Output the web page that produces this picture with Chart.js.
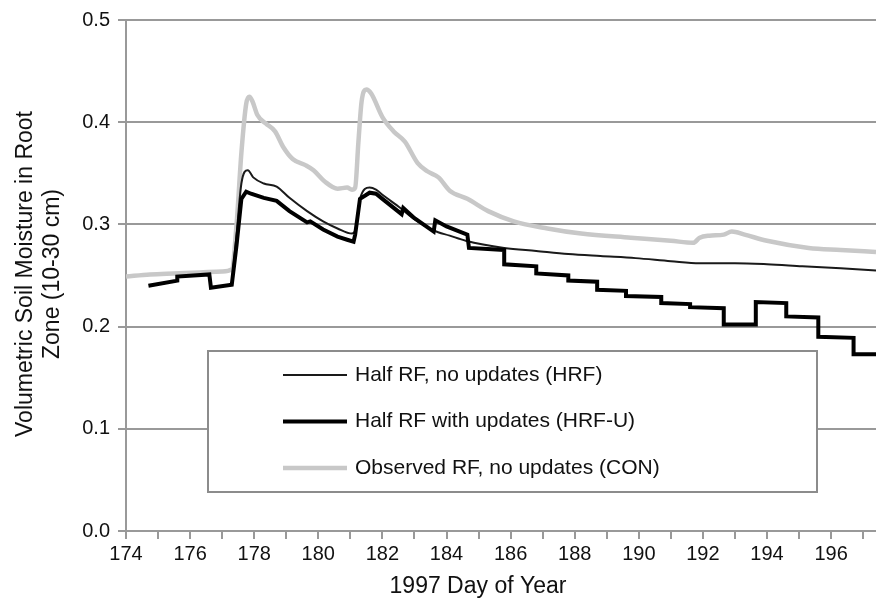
<!DOCTYPE html>
<html><head><meta charset="utf-8">
<script src="https://cdn.jsdelivr.net/npm/chart.js@4/dist/chart.umd.min.js"></script>
<style>html,body{margin:0;padding:0;background:#fff;} #wrap{position:relative;width:876px;height:599px;}</style>
</head><body><div id="wrap"><canvas id="c" width="876" height="599"></canvas></div>
<script>
// ---- data ----
const conDays = [174.0,174.75,175.5,176.3,177.0,177.3,177.45,177.6,177.75,177.85,177.95,178.1,178.35,178.65,178.9,179.2,179.6,179.85,180.2,180.6,180.9,181.05,181.15,181.25,181.35,181.5,181.65,182.0,182.35,182.7,183.1,183.4,183.75,184.1,184.65,185.3,186.1,187.15,188.2,189.75,191.0,191.7,191.9,192.2,192.65,192.9,193.3,194.0,195.3,196.3,197.4];
const conVals = [0.249,0.251,0.252,0.253,0.254,0.256,0.300,0.370,0.418,0.425,0.420,0.407,0.399,0.391,0.376,0.364,0.358,0.353,0.342,0.335,0.336,0.334,0.336,0.380,0.420,0.432,0.428,0.405,0.391,0.381,0.360,0.352,0.346,0.333,0.325,0.313,0.303,0.296,0.291,0.287,0.284,0.282,0.287,0.289,0.290,0.293,0.290,0.284,0.277,0.275,0.273];

const hrfDays = [177.3,177.45,177.6,177.8,177.97,178.3,178.7,179.1,179.65,180.15,180.6,181.05,181.15,181.3,181.6,181.8,182.0,182.56,183.0,183.6,184.1,184.6,185.8,186.8,187.8,188.8,189.9,191.0,191.9,193.0,194.0,195.1,196.3,197.4];
const hrfVals = [0.242,0.290,0.340,0.353,0.346,0.340,0.337,0.326,0.313,0.303,0.296,0.291,0.294,0.325,0.336,0.334,0.329,0.316,0.305,0.294,0.289,0.284,0.277,0.274,0.271,0.269,0.267,0.264,0.262,0.262,0.261,0.259,0.257,0.255];

const hrfuDays = [174.7,175.6,175.6,176.6,176.65,177.3,177.45,177.6,177.75,177.9,178.3,178.7,179.1,179.65,179.75,180.15,180.6,180.9,181.1,181.15,181.3,181.6,181.8,182.0,182.6,182.65,183.0,183.6,183.65,184.0,184.65,184.7,185.8,185.8,186.8,186.8,187.8,187.8,188.7,188.7,189.6,189.6,190.7,190.7,191.6,191.6,192.65,192.65,193.65,193.65,194.6,194.6,195.6,195.6,196.7,196.7,197.4];
const hrfuVals = [0.240,0.245,0.249,0.251,0.238,0.241,0.280,0.325,0.332,0.330,0.326,0.323,0.313,0.302,0.303,0.295,0.288,0.285,0.283,0.290,0.325,0.331,0.330,0.325,0.310,0.316,0.306,0.293,0.304,0.298,0.290,0.277,0.275,0.261,0.259,0.252,0.250,0.245,0.244,0.236,0.235,0.230,0.229,0.223,0.222,0.219,0.218,0.202,0.202,0.224,0.223,0.210,0.209,0.190,0.189,0.173,0.173];

const xTickValues = [174,175,176,177,178,179,180,181,182,183,184,185,186,187,188,189,190,191,192,193,194,195,196,197];
const xTickLabels = ['174','','176','','178','','180','','182','','184','','186','','188','','190','','192','','194','','196',''];
const yTickValues = [0,0.1,0.2,0.3,0.4,0.5];
const yTickLabels = ['0.0','0.1','0.2','0.3','0.4','0.5'];
const seriesLabels = ['Half RF, no updates (HRF)','Half RF with updates (HRF-U)','Observed RF, no updates (CON)'];
const xTitle = '1997 Day of Year';
const yTitle = ['Volumetric Soil Moisture in Root','Zone (10-30 cm)'];

// ---- chart ----
const FONT = '"Liberation Sans", Arial, Helvetica, sans-serif';
const pts = (d, v) => d.map((x, i) => ({x: x, y: v[i]}));

const overlay = {
  id: 'overlay',
  afterDraw(chart) {
    const ctx = chart.ctx;
    ctx.save();
    ctx.fillStyle = '#111';
    ctx.textBaseline = 'middle';
    ctx.textAlign = 'center';
    ctx.font = '23px ' + FONT;
    ctx.fillText(xTitle, 478, 587);
    ctx.save();
    ctx.translate(26, 274);
    ctx.rotate(-Math.PI / 2);
    ctx.fillText(yTitle[0], 0, 0);
    ctx.fillText(yTitle[1], 0, 27);
    ctx.restore();
    // legend box
    ctx.fillStyle = '#fff';
    ctx.fillRect(208, 351, 609, 141);
    ctx.strokeStyle = '#8c8c8c';
    ctx.lineWidth = 2;
    ctx.strokeRect(208, 351, 609, 141);
    ctx.font = '21px ' + FONT;
    ctx.textAlign = 'left';
    chart.data.datasets.forEach((ds, i) => {
      const y = 375 + i * 46.5;
      ctx.strokeStyle = ds.borderColor;
      ctx.lineWidth = ds.borderWidth;
      ctx.beginPath(); ctx.moveTo(283, y); ctx.lineTo(347, y); ctx.stroke();
      ctx.fillStyle = '#111';
      ctx.fillText(ds.label, 355, y);
    });
    ctx.restore();
  }
};

new Chart(document.getElementById('c'), {
  type: 'line',
  data: {
    datasets: [
      {label: seriesLabels[0], data: pts(hrfDays, hrfVals), borderColor: '#1a1a1a', borderWidth: 2, pointRadius: 0, cubicInterpolationMode: 'monotone', order: 1},
      {label: seriesLabels[1], data: pts(hrfuDays, hrfuVals), borderColor: '#000', borderWidth: 4, pointRadius: 0, tension: 0, borderJoinStyle: 'miter', order: 0},
      {label: seriesLabels[2], data: pts(conDays, conVals), borderColor: '#c8c8c8', borderWidth: 4.5, pointRadius: 0, cubicInterpolationMode: 'monotone', order: 2}
    ]
  },
  options: {
    responsive: false,
    animation: false,
    devicePixelRatio: 1,
    layout: {padding: {top: 18, right: 0, left: 0, bottom: 0}},
    plugins: {legend: {display: false}, tooltip: {enabled: false}},
    scales: {
      x: {
        type: 'linear', min: 174, max: 197.4,
        afterBuildTicks: s => { s.ticks = xTickValues.map(v => ({value: v})); },
        afterFit: s => { s.height = 68; },
        ticks: {autoSkip: false, maxRotation: 0, padding: 3, color: '#111', font: {family: FONT, size: 20},
          callback: (v, i) => xTickLabels[i]},
        grid: {drawOnChartArea: false, drawTicks: true, tickLength: 8, color: '#999', lineWidth: 2},
        border: {display: true, color: '#999', width: 2}
      },
      y: {
        min: 0, max: 0.5,
        afterBuildTicks: s => { s.ticks = yTickValues.map(v => ({value: v})); },
        afterFit: s => { s.width = 126; },
        ticks: {padding: 8, color: '#111', font: {family: FONT, size: 20},
          callback: (v, i) => yTickLabels[i]},
        grid: {color: '#999', lineWidth: 2, tickLength: 8},
        border: {display: true, color: '#999', width: 2}
      }
    }
  },
  plugins: [overlay]
});
</script></body></html>
